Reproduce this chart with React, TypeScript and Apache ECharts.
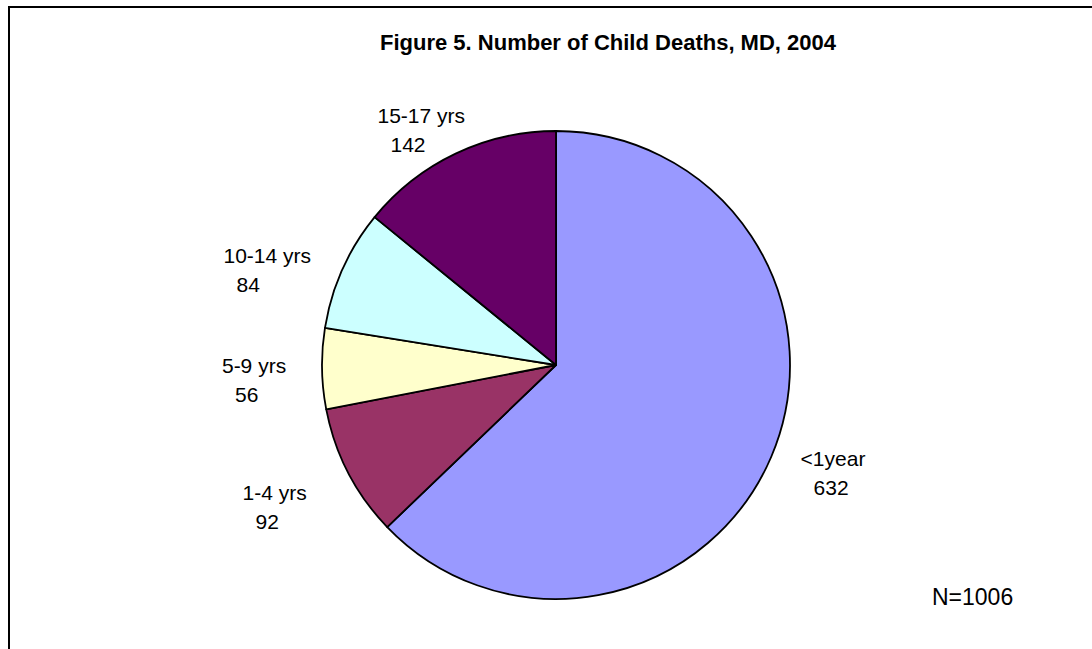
import React, { useEffect, useRef } from "react";
import * as echarts from "echarts";

const titleText = "Figure 5. Number of Child Deaths, MD, 2004";
const categories = ["<1year", "1-4 yrs", "5-9 yrs", "10-14 yrs", "15-17 yrs"];
const values = [632, 92, 56, 84, 142];
const sliceColors = ["#9999FF", "#993366", "#FFFFCC", "#CCFFFF", "#660066"];

const FONT = '"Liberation Sans", Arial, sans-serif';
const CX = 556;
const CY = 365;
const RADIUS = 234;
const LABEL_R = 300;
// small layout nudges for label placement (Excel "best fit" style)
const labelNudge = [
  [1, -10],
  [-15, 4],
  [-2, 10],
  [-15, 28],
  [-6, 36],
];

export default function App() {
  const ref = useRef<HTMLDivElement>(null);

  useEffect(() => {
    if (!ref.current) return;
    const chart = echarts.init(ref.current, undefined, { renderer: "svg" });
    const total = values.reduce((a, b) => a + b, 0);
    const data = categories.map((c, i) => ({
      name: c,
      value: values[i],
      itemStyle: { color: sliceColors[i] },
    }));

    chart.setOption({
      animation: false,
      backgroundColor: "#ffffff",
      graphic: [
        {
          type: "rect",
          shape: { x: 9, y: 7, width: 1300, height: 900 },
          style: { fill: "none", stroke: "#000", lineWidth: 2 },
          silent: true,
        },
        {
          type: "text",
          x: 608,
          y: 42,
          style: {
            text: titleText,
            fill: "#000",
            font: `bold 22px ${FONT}`,
            textAlign: "center",
            textVerticalAlign: "middle",
            align: "center",
            verticalAlign: "middle",
          },
        },
        {
          type: "text",
          x: 932,
          y: 597,
          style: {
            text: `N=${total}`,
            fill: "#000",
            font: `23px ${FONT}`,
            textAlign: "left",
            textVerticalAlign: "middle",
            align: "left",
            verticalAlign: "middle",
          },
        },
      ],
      series: [
        {
          type: "pie",
          center: [CX, CY],
          radius: RADIUS,
          startAngle: 90,
          clockwise: true,
          avoidLabelOverlap: false,
          itemStyle: { borderColor: "#000", borderWidth: 1.8 },
          emphasis: { disabled: true },
          labelLine: { show: false },
          label: {
            show: true,
            position: "outside",
            formatter: "{n|{b}}\n{v|{c}}",
            color: "#000",
            rich: {
              n: { fontSize: 21, lineHeight: 29, fontFamily: FONT, color: "#000" },
              v: {
                fontSize: 21,
                lineHeight: 29,
                fontFamily: FONT,
                color: "#000",
                padding: [0, 0, 0, 13],
              },
            },
          },
          labelLayout: (params: any) => {
            const i = params.dataIndex;
            let before = 0;
            for (let k = 0; k < i; k++) before += values[k];
            const mid = ((before + values[i] / 2) / total) * Math.PI * 2;
            const x = CX + LABEL_R * Math.sin(mid) + labelNudge[i][0];
            const y = CY - LABEL_R * Math.cos(mid) + labelNudge[i][1];
            const w = params.labelRect ? params.labelRect.width : 0;
            return {
              x: x - w / 2,
              y,
              align: "left",
              verticalAlign: "middle",
            };
          },
          data,
        },
      ],
    });

    return () => chart.dispose();
  }, []);

  return (
    <div
      ref={ref}
      style={{ position: "absolute", left: 0, top: 0, width: 1092, height: 649 }}
    />
  );
}
